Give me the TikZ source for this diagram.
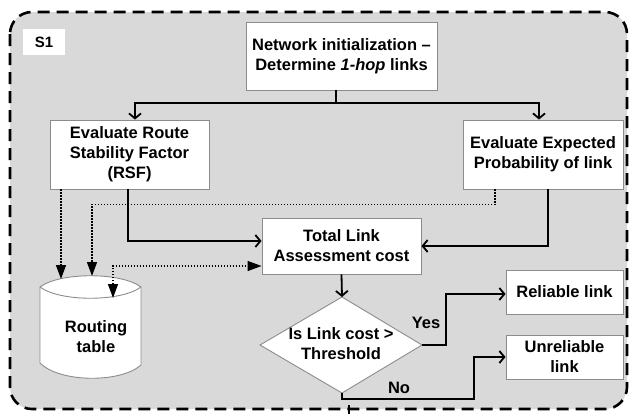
\documentclass[tikz,border=0pt]{standalone}
\usepackage{fontspec}
\setmainfont{Liberation Sans}
\usetikzlibrary{arrows.meta,calc}
\definecolor{panel}{HTML}{D9D9D9}
\definecolor{edge}{HTML}{8C8C8C}
\begin{document}
\begin{tikzpicture}[x=1pt,y=-1pt,
  txt/.style={font=\fontsize{16.5}{20}\selectfont\bfseries},
  box/.style={txt,draw=edge,line width=0.9pt,fill=white,inner sep=0pt,align=center},
  flow/.style={line width=1.8pt,-{Straight Barb[length=5pt,width=12pt,line width=1.8pt]}},
  dotline/.style={line width=1.4pt,dash pattern=on 1.4pt off 1.6pt},
  dotarrow/.style={dotline,-{Triangle[length=14pt,width=10pt]}},
  dotboth/.style={dotline,{Triangle[length=14pt,width=10pt]}-{Triangle[length=14pt,width=10pt]}}
]
\useasboundingbox (0,0) rectangle (631,413);
\fill[white] (0,0) rectangle (631,413);

% dashed S1 panel
\draw[line width=2.6pt,fill=panel,dash pattern=on 12pt off 7pt,rounded corners=22pt]
  (10,12) rectangle (627,409);
\node[box,draw=none,font=\fontsize{15}{17}\selectfont\bfseries,minimum width=42,minimum height=26] (s1) at (44,42) {S1};

% process boxes
\node[box,minimum width=191,minimum height=68] (top) at (341.5,56)
  {Network initialization --\\Determine \textit{1-hop} links};
\node[box,minimum width=159,minimum height=69] (rsf) at (129.5,154.5)
  {Evaluate Route\\Stability Factor\\(RSF)};
\node[box,minimum width=160,minimum height=69] (ep) at (543,154.5)
  {Evaluate Expected\\Probability of link};
\node[box,minimum width=159,minimum height=56] (total) at (341.5,246)
  {Total Link\\Assessment cost};
\node[box,minimum width=117,minimum height=44] (rel) at (564.5,292) {Reliable link};
\node[box,minimum width=117,minimum height=44] (unrel) at (564.5,357) {Unreliable\\link};

% decision diamond
\coordinate (dN) at (342,297);
\coordinate (dE) at (422,345);
\coordinate (dS) at (342,393);
\coordinate (dW) at (260,345);
\draw[draw=edge,line width=0.9pt,fill=white] (dN) -- (dE) -- (dS) -- (dW) -- cycle;
\node[txt,align=center] (dec) at (341,344) {Is Link cost >\\Threshold};

% routing table cylinder
\draw[draw=edge,line width=0.9pt,fill=white]
  (40,287) .. controls (60,272) and (121,272) .. (141,287)
  -- (141,365) .. controls (121,383) and (60,383) .. (40,363) -- cycle;
\draw[draw=edge,line width=0.9pt]
  (40,287) .. controls (60,302) and (121,302) .. (141,287);
\node[txt,align=center] (rt) at (96,337) {Routing\\table};
\coordinate (rtA) at (61,279);
\coordinate (rtB) at (92,276);
\coordinate (rtC) at (113,298);

% main flow
\coordinate (split) at (336,103);
\draw[line width=1.8pt] (top.south -| split) -- (split);
\draw[flow] (split) -| ([xshift=5.5pt]rsf.north);
\draw[flow] (split) -| ([xshift=-4pt]ep.north);
\draw[flow] ([xshift=-1.5pt]rsf.south) |- ([yshift=5pt]total.west);
\draw[flow] ([xshift=5pt]ep.south) |- (total.east);
\draw[flow] (total.south) -- (dN);
\draw[flow] (dE) -- ++(24,0) |- ([yshift=-2pt]rel.west);
\draw[flow] (dS) -- ++(0,6) -- ++(132,0) |- (unrel.west);
\node[txt] (yes) at (426,323) {Yes};
\node[txt] (no) at (399,388) {No};

% routing table updates
\draw[dotarrow] ([xshift=-68.5pt]rsf.south) -- (rtA);
\draw[dotarrow] ([xshift=-48pt]ep.south) -- ++(0,15) -| (rtB);
\draw[dotboth] (rtC) |- ([yshift=-20pt]total.west);

% outgoing link below the panel
\coordinate (out) at (349,405);
\draw[line width=1.8pt] (out) -- ++(0,10);
\end{tikzpicture}
\end{document}
